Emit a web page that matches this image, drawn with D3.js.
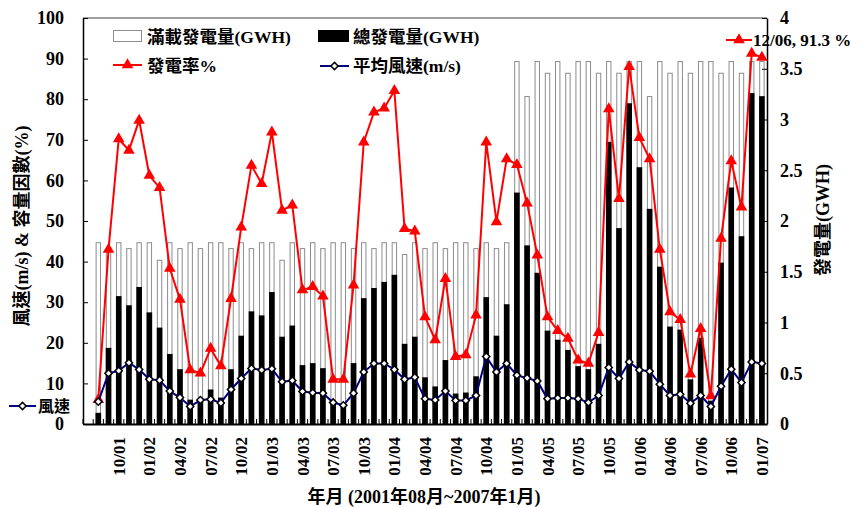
<!DOCTYPE html>
<html>
<head>
<meta charset="utf-8">
<script src="https://cdn.jsdelivr.net/npm/d3@7"></script>
<style>
  body { margin: 0; background: #fff; }
  svg text {
    font-family: "Liberation Serif", "Times New Roman", "Noto Sans CJK TC", serif;
    font-weight: bold;
    fill: #000;
  }
</style>
</head>
<body>
<svg id="chart" width="864" height="508"></svg>
<script>
// Monthly wind-farm record, 2001/08 – 2007/01
const months = [
  "08/01","09/01","10/01","11/01","12/01",
  "01/02","02/02","03/02","04/02","05/02","06/02","07/02","08/02","09/02","10/02","11/02","12/02",
  "01/03","02/03","03/03","04/03","05/03","06/03","07/03","08/03","09/03","10/03","11/03","12/03",
  "01/04","02/04","03/04","04/04","05/04","06/04","07/04","08/04","09/04","10/04","11/04","12/04",
  "01/05","02/05","03/05","04/05","05/05","06/05","07/05","08/05","09/05","10/05","11/05","12/05",
  "01/06","02/06","03/06","04/06","05/06","06/06","07/06","08/06","09/06","10/06","11/06","12/06",
  "01/07"
];

// 滿載發電量 (GWH)
const fullLoad = [
  1.786,1.728,1.786,1.728,1.786,
  1.786,1.613,1.786,1.728,1.786,1.728,1.786,1.786,1.728,1.786,1.728,1.786,
  1.786,1.613,1.786,1.728,1.786,1.728,1.786,1.786,1.728,1.786,1.728,1.786,
  1.786,1.670,1.786,1.728,1.786,1.728,1.786,1.786,1.728,1.786,1.728,1.786,
  3.571,3.226,3.571,3.456,3.571,3.456,3.571,3.571,3.456,3.571,3.456,3.571,
  3.571,3.226,3.571,3.456,3.571,3.456,3.571,3.571,3.456,3.571,3.456,3.571,
  3.571
];

// 總發電量 (GWH)
const totalGen = [
  0.11,0.75,1.26,1.17,1.35,
  1.10,0.95,0.69,0.54,0.24,0.22,0.34,0.26,0.54,0.87,1.11,1.07,
  1.30,0.86,0.97,0.58,0.60,0.55,0.20,0.20,0.60,1.24,1.34,1.40,
  1.47,0.79,0.86,0.46,0.37,0.63,0.30,0.31,0.47,1.25,0.87,1.18,
  2.28,1.76,1.49,0.92,0.83,0.73,0.57,0.54,0.79,2.78,1.93,3.16,
  2.53,2.12,1.55,0.96,0.93,0.44,0.85,0.23,1.59,2.33,1.85,3.26,
  3.23
];

// 發電率 (%)
const capacityFactor = [
  6.0,43.0,70.2,67.4,74.8,
  61.2,58.2,38.3,30.7,13.3,12.5,18.6,14.3,30.9,48.5,63.7,59.2,
  71.9,52.6,53.9,33.0,33.8,31.5,11.0,11.0,34.2,69.4,76.8,77.8,
  82.1,48.1,47.5,26.4,20.7,35.8,16.6,17.0,26.8,69.4,49.8,65.3,
  63.9,54.4,41.6,26.4,23.0,21.1,15.7,14.9,22.5,77.6,55.5,88.0,
  70.5,65.3,43.0,27.6,25.7,12.3,23.5,6.9,45.7,64.8,53.4,91.3,
  90.3
];

// 平均風速 (m/s)
const windSpeed = [
  5.5,12.5,13.1,15.1,13.4,
  11.0,10.8,8.1,6.5,4.3,5.9,6.1,5.2,8.5,11.2,13.7,13.3,
  13.6,10.4,10.7,8.0,7.7,7.6,5.3,4.6,7.6,12.8,14.9,14.9,
  13.4,11.0,11.5,6.2,5.9,8.1,5.8,5.8,7.0,16.6,12.8,14.9,
  12.0,11.3,10.6,6.2,6.4,6.4,6.2,5.3,7.0,13.9,11.2,15.3,
  13.3,13.0,9.8,7.0,7.3,5.1,7.0,4.3,9.3,13.5,10.2,15.3,
  14.9
];

const xTickLabels = [
  "10/01","01/02","04/02","07/02","10/02","01/03","04/03","07/03","10/03","01/04","04/04",
  "07/04","10/04","01/05","04/05","07/05","10/05","01/06","04/06","07/06","10/06","01/07"
];
const leftTicks = [0,10,20,30,40,50,60,70,80,90,100];
const rightTicks = [0,0.5,1,1.5,2,2.5,3,3.5,4];

const highlight = { month: "12/06", value: 91.3 };

const plot = { left: 83, right: 767, top: 18, bottom: 424 };
const svg = d3.select("#chart");

// one empty slot ahead of the first month
const x = d3.scaleBand().domain(["", ...months]).range([plot.left, plot.right]);
const cx = m => x(m) + x.bandwidth() / 2;
const yL = d3.scaleLinear().domain([0, 100]).range([plot.bottom, plot.top]);
const yR = d3.scaleLinear().domain([0, 4]).range([plot.bottom, plot.top]);

const rows = months.map((m, i) => ({
  m, full: fullLoad[i], gen: totalGen[i], cf: capacityFactor[i], ws: windSpeed[i]
}));

// bars: full-load capacity (white) behind actual generation (black)
svg.append("g").selectAll("rect").data(rows).join("rect")
  .attr("x", d => cx(d.m) - 2.2).attr("width", 4.4)
  .attr("y", d => yR(d.full)).attr("height", d => yR(0) - yR(d.full))
  .attr("fill", "#fff").attr("stroke", "#8c8c8c").attr("stroke-width", 1);

svg.append("g").selectAll("rect").data(rows).join("rect")
  .attr("x", d => cx(d.m) - 2.8).attr("width", 5.6)
  .attr("y", d => yR(d.gen)).attr("height", d => yR(0) - yR(d.gen))
  .attr("fill", "#000");

// frame
svg.append("line").attr("x1", plot.left).attr("x2", plot.right)
  .attr("y1", plot.top).attr("y2", plot.top)
  .attr("stroke", "#808080").attr("stroke-width", 1.5);

// category boundary ticks along the bottom
svg.append("g").selectAll("line").data(["", ...months]).join("line")
  .attr("x1", d => x(d)).attr("x2", d => x(d))
  .attr("y1", plot.bottom).attr("y2", plot.bottom - 5)
  .attr("stroke", "#000").attr("stroke-width", 1);

// left axis
const gL = svg.append("g").attr("transform", `translate(${plot.left},0)`)
  .call(d3.axisLeft(yL).tickValues(leftTicks).tickSizeInner(-5).tickSizeOuter(0).tickPadding(19));
gL.select(".domain").attr("stroke", "#000").attr("stroke-width", 1.5);
gL.selectAll("text").style("font-size", "18px").attr("fill", "#000");

// right axis
const gR = svg.append("g").attr("transform", `translate(${plot.right},0)`)
  .call(d3.axisRight(yR).tickValues(rightTicks).tickFormat(d3.format("")).tickSizeInner(-5).tickSizeOuter(0).tickPadding(13));
gR.select(".domain").attr("stroke", "#000").attr("stroke-width", 1.5);
gR.selectAll("text").style("font-size", "18px").attr("fill", "#000");

// bottom axis
const gB = svg.append("g").attr("transform", `translate(0,${plot.bottom})`)
  .call(d3.axisBottom(x).tickValues(xTickLabels).tickSize(0).tickSizeOuter(0));
gB.select(".domain").attr("stroke", "#000").attr("stroke-width", 2);
gB.selectAll("text")
  .attr("transform", "rotate(-90)").attr("text-anchor", "end")
  .attr("x", -13).attr("y", 0).attr("dy", "0.36em")
  .style("font-size", "17px").attr("fill", "#000");

// capacity factor line
const lineL = d3.line().x(d => cx(d.m));
svg.append("path").datum(rows)
  .attr("d", lineL.y(d => yL(d.cf)))
  .attr("fill", "none").attr("stroke", "#ff0000").attr("stroke-width", 2);
const tri = d3.symbol(d3.symbolTriangle, 58);
svg.append("g").selectAll("path").data(rows).join("path")
  .attr("transform", d => `translate(${cx(d.m)},${yL(d.cf)})`)
  .attr("d", tri).attr("fill", "#ff0000");

// wind speed line
svg.append("path").datum(rows)
  .attr("d", d3.line().x(d => cx(d.m)).y(d => yL(d.ws)))
  .attr("fill", "none").attr("stroke", "#000080").attr("stroke-width", 2);
const dia = d3.symbol(d3.symbolSquare, 26);
svg.append("g").selectAll("path").data(rows).join("path")
  .attr("transform", d => `translate(${cx(d.m)},${yL(d.ws)}) rotate(45)`)
  .attr("d", dia).attr("fill", "#fff").attr("stroke", "#000").attr("stroke-width", 1.5);

// legend
const lg = svg.append("g");
function lineSwatch(x1, x2, y, color, symbolType) {
  lg.append("line").attr("x1", x1).attr("x2", x2).attr("y1", y).attr("y2", y)
    .attr("stroke", color).attr("stroke-width", 2);
  const cxm = (x1 + x2) / 2;
  if (symbolType === "tri") {
    lg.append("path").attr("transform", `translate(${cxm},${y})`).attr("d", tri).attr("fill", "#ff0000");
  } else {
    lg.append("path").attr("transform", `translate(${cxm},${y}) rotate(45)`).attr("d", dia)
      .attr("fill", "#fff").attr("stroke", "#000").attr("stroke-width", 1.5);
  }
}
function label(tx, ty, str, size) {
  lg.append("text").attr("x", tx).attr("y", ty).attr("dy", "0.35em")
    .style("font-size", size + "px").text(str);
}
lg.append("rect").attr("x", 113.5).attr("y", 30.5).attr("width", 28).attr("height", 11)
  .attr("fill", "#fff").attr("stroke", "#8c8c8c");
label(147, 37, "滿載發電量(GWH)", 17.5);
lg.append("rect").attr("x", 318).attr("y", 30).attr("width", 31).attr("height", 12).attr("fill", "#000");
label(353, 37, "總發電量(GWH)", 17.5);
lineSwatch(113, 142, 65, "#ff0000", "tri");
label(147, 66, "發電率%", 17.5);
lineSwatch(320, 349, 66, "#000080", "dia");
label(353, 66, "平均風速(m/s)", 17.5);
lineSwatch(726, 752, 40, "#ff0000", "tri");
label(753, 40, `${highlight.month}, ${highlight.value} %`, 17);
lineSwatch(9, 36, 406, "#000080", "dia");
label(38, 406, "風速", 16);

// axis titles
svg.append("text").attr("transform", "translate(22,226) rotate(-90)")
  .attr("text-anchor", "middle").attr("dy", "0.35em").style("font-size", "18px")
  .text("風速(m/s) & 容量因數(%)");
svg.append("text").attr("transform", "translate(823,220) rotate(-90)")
  .attr("text-anchor", "middle").attr("dy", "0.35em").style("font-size", "18px")
  .text("發電量(GWH)");
svg.append("text").attr("x", 424).attr("y", 497).attr("text-anchor", "middle")
  .attr("dy", "0.35em").style("font-size", "18px")
  .text("年月 (2001年08月~2007年1月)");
</script>
</body>
</html>
